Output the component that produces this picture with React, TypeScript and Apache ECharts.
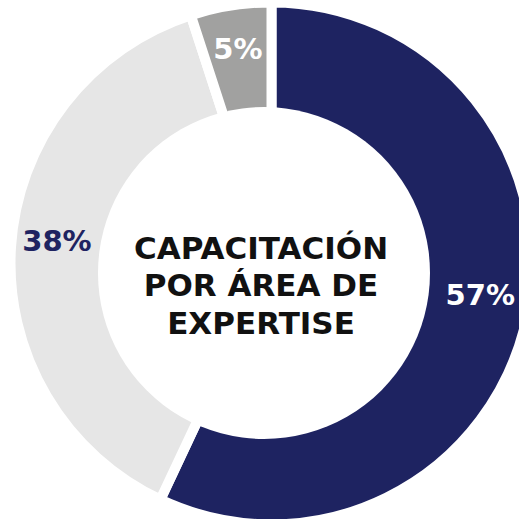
import React, { useEffect, useRef } from "react";
import * as echarts from "echarts";

const CATEGORIES = ["Área 1", "Área 2", "Área 3"];
const VALUES = [57, 38, 5];
const TITLE_LINES = ["CAPACITACIÓN", "POR ÁREA DE", "EXPERTISE"];

const COLORS = ["#1e2361", "#e6e6e6", "#a1a1a0"];
const LABEL_COLORS = ["#ffffff", "#1e2361", "#ffffff"];
const LABEL_NUDGE = [
  [-1, -15],
  [0, -9],
  [0, -2],
];

export default function App() {
  const ref = useRef<HTMLDivElement>(null);
  useEffect(() => {
    if (!ref.current) return;
    const chart = echarts.init(ref.current, undefined, { renderer: "svg" });
    const data = CATEGORIES.map((name, i) => ({
      name,
      value: VALUES[i],
      itemStyle: { color: COLORS[i] },
      label: { color: LABEL_COLORS[i] },
    }));
    const labelData = CATEGORIES.map((name, i) => ({
      name,
      value: VALUES[i],
      label: { color: LABEL_COLORS[i] },
    }));
    chart.setOption({
      animation: false,
      series: [
        {
          type: "pie",
          z: 2,
          center: [271.5, 263.4],
          radius: [0, 261],
          startAngle: 90,
          clockwise: true,
          silent: true,
          label: { show: false },
          labelLine: { show: false },
          itemStyle: { borderColor: "#ffffff", borderWidth: 10 },
          data,
        },
        {
          type: "pie",
          z: 10,
          center: [271.5, 263.4],
          radius: [168, 256],
          startAngle: 90,
          clockwise: true,
          silent: true,
          itemStyle: { color: "transparent" },
          label: {
            show: true,
            position: "inside",
            formatter: (p: any) => `${p.value}%`,
            fontFamily: "DejaVu Sans",
            fontWeight: "bold",
            fontSize: 29,
          },
          labelLine: { show: false },
          labelLayout: (params: any) => ({
            dx: LABEL_NUDGE[params.dataIndex][0],
            dy: LABEL_NUDGE[params.dataIndex][1],
          }),
          data: labelData,
        },
      ],
      graphic: [
        {
          type: "circle",
          z: 5,
          silent: true,
          shape: { cx: 264, cy: 273, r: 166 },
          style: { fill: "#ffffff" },
        },
        {
          type: "text",
          z: 11,
          silent: true,
          x: 261,
          y: 285,
          style: {
            text: TITLE_LINES.join("\n"),
            align: "center",
            verticalAlign: "middle",
            fontFamily: "DejaVu Sans",
            fontWeight: "bold",
            fontSize: 31,
            lineHeight: 37.5,
            fill: "#111111",
          },
        },
      ],
    });
    return () => chart.dispose();
  }, []);
  return (
    <div
      ref={ref}
      style={{ position: "absolute", left: 0, top: 0, width: 519, height: 519 }}
    />
  );
}
